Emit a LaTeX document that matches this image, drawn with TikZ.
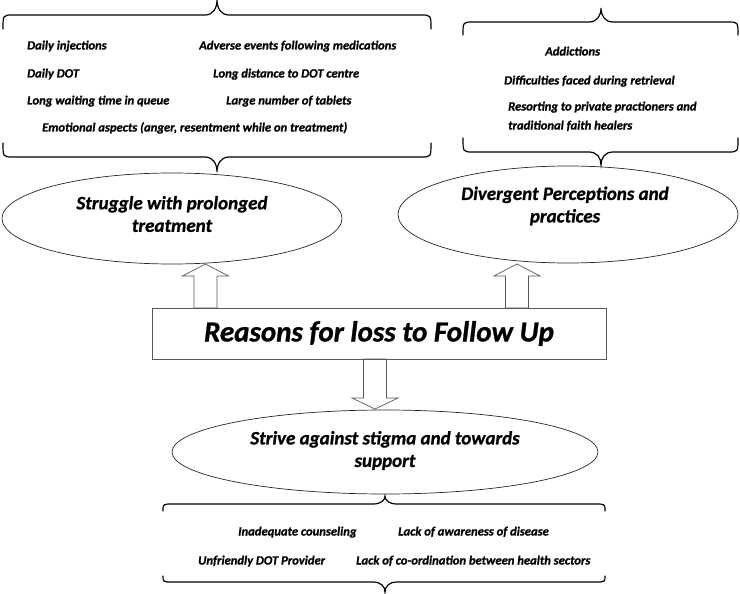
\documentclass[tikz,border=0pt]{standalone}
\usepackage{fontspec}
\setmainfont{Carlito}[BoldItalicFeatures={FakeBold=1}]
\usetikzlibrary{shapes.geometric,calc}
% #1 x-left, #2 x-right, #3 x-peak, #4 y of straight run, #5 y of peak, #6 y of curled ends
\newcommand{\hbracepath}[6]{%
  \draw[brace] (#1,#6) .. controls (#1,#4) .. ({#1+10},#4) -- ({#3-12},#4)
    .. controls ({#3-4},#4) and (#3,{#4+(#5-#4)*0.45}) .. (#3,#5)
    .. controls (#3,{#4+(#5-#4)*0.45}) and ({#3+4},#4) .. ({#3+12},#4)
    -- ({#2-10},#4) .. controls (#2,#4) .. (#2,#6);}
\begin{document}
\begin{tikzpicture}[x=1pt,y=-1pt,
  brace/.style={draw=black, line width=1.2pt, line cap=round},
  oval/.style={ellipse, draw=black!85, line width=0.7pt, inner sep=0pt},
  ovaltext/.style={font=\fontsize{19}{22.5}\selectfont\bfseries\itshape, align=center, inner sep=0pt},
  item/.style={font=\fontsize{12.6}{15}\selectfont\bfseries\itshape, anchor=west, inner sep=0pt, text height=9pt, text depth=2pt},
  mainbox/.style={draw=black!65, line width=0.8pt, inner sep=0pt},
  blockarrow/.style={draw=black!65, line width=0.7pt, line join=miter}
]
\useasboundingbox (0,0) rectangle (740,594);

% braces
\hbracepath{3}{431}{217}{15}{0}{29}
\hbracepath{3}{431}{217}{157}{172}{143}
\hbracepath{463}{738}{601}{22}{8}{35}
\hbracepath{463}{738}{601}{152}{165}{138}
\hbracepath{163}{605}{385}{504}{496}{511}
\hbracepath{163}{605}{385}{582}{592}{576}

% top-left items
\node[item] (t1) at (27,46) {Daily injections};
\node[item] (t2) at (199,46) {Adverse events following medications};
\node[item] (t3) at (27,74) {Daily DOT};
\node[item] (t4) at (213,74) {Long distance to DOT centre};
\node[item] (t5) at (27,101) {Long waiting time in queue};
\node[item] (t6) at (226,101) {Large number of tablets};
\node[item] (t7) at (42,128) {Emotional aspects (anger, resentment while on treatment)};

% top-right items
\node[item] (r1) at (545,52) {Addictions};
\node[item] (r2) at (504,81) {Difficulties faced during retrieval};
\node[item] (r3) at (508,107) {Resorting to private practioners and};
\node[item] (r4) at (508,126) {traditional faith healers};

% bottom items
\node[item] (b1) at (238,532) {Inadequate counseling};
\node[item] (b2) at (398,532) {Lack of awareness of disease};
\node[item] (b3) at (198,561) {Unfriendly DOT Provider};
\node[item] (b4) at (356,561) {Lack of co-ordination between health sectors};

% ellipses
\node[oval, minimum width=340pt, minimum height=91pt] (e1) at (172,218.5) {};
\node[ovaltext] (e1t) at (172,214) {Struggle with prolonged\\treatment};
\node[oval, minimum width=340pt, minimum height=97pt] (e2) at (568,214.5) {};
\node[ovaltext] (e2t) at (565,206) {Divergent Perceptions and\\practices};
\node[oval, minimum width=426pt, minimum height=84pt] (e3) at (385,452) {};
\node[ovaltext] (e3t) at (385,450.5) {Strive against stigma and towards\\support};

% main box
\node[mainbox, minimum width=454pt, minimum height=51pt,
  font=\fontsize{29}{34}\selectfont\bfseries\itshape] (reasons) at (379,333.5) {Reasons for loss to Follow Up};

% block arrows
\coordinate (a1base) at (205.5,308);
\coordinate (a1tip) at (205.5,264);
\draw[blockarrow] (a1base) ++(-11.5,0) -- ++(0,-32) -- ++(-11.5,0) -- (a1tip) -- ++(23,12) -- ++(-11.5,0) -- ++(0,32) -- cycle;
\coordinate (a2base) at (517,308);
\coordinate (a2tip) at (517,264);
\draw[blockarrow] (a2base) ++(-11.5,0) -- ++(0,-32) -- ++(-11.5,0) -- (a2tip) -- ++(23,12) -- ++(-11.5,0) -- ++(0,32) -- cycle;
\coordinate (a3base) at (375,359);
\coordinate (a3tip) at (375,409);
\draw[blockarrow] (a3base) ++(-11.5,0) -- ++(0,39) -- ++(-11.5,0) -- (a3tip) -- ++(23,-11) -- ++(-11.5,0) -- ++(0,-39) -- cycle;
\end{tikzpicture}
\end{document}
